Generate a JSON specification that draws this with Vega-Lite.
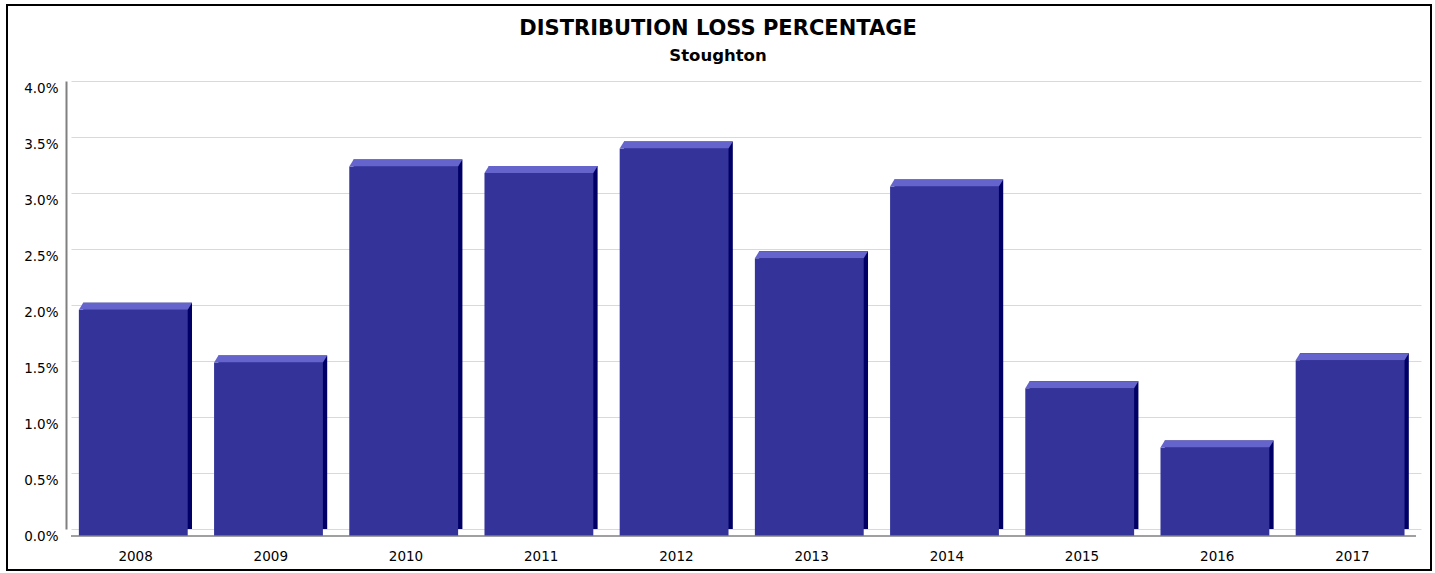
{
  "$schema": "https://vega.github.io/schema/vega-lite/v6.json",
  "width": 1350,
  "height": 448,
  "autosize": {"type": "none"},
  "padding": {"left": 71, "top": 81, "right": 14, "bottom": 44},
  "background": "white",
  "config": {"view": {"stroke": null}, "font": "DejaVu Sans"},
  "title": {
    "text": "DISTRIBUTION LOSS PERCENTAGE",
    "subtitle": "Stoughton",
    "anchor": "middle",
    "frame": "group",
    "dx": -28,
    "offset": -60,
    "font": "DejaVu Sans",
    "fontSize": 21,
    "fontWeight": "bold",
    "color": "black",
    "subtitleFont": "DejaVu Sans",
    "subtitleFontSize": 16.5,
    "subtitleFontWeight": "bold",
    "subtitleColor": "black",
    "subtitlePadding": 9
  },
  "layer": [
    {
      "data": {"values": [
        {"year": "2008", "loss": 0.0202},
        {"year": "2009", "loss": 0.0155},
        {"year": "2010", "loss": 0.0330},
        {"year": "2011", "loss": 0.0324},
        {"year": "2012", "loss": 0.0346},
        {"year": "2013", "loss": 0.0248},
        {"year": "2014", "loss": 0.0312},
        {"year": "2015", "loss": 0.0132},
        {"year": "2016", "loss": 0.0079},
        {"year": "2017", "loss": 0.0157}
      ]},
      "encoding": {
        "x": {
          "field": "year",
          "type": "ordinal",
          "scale": {"paddingInner": 0.195, "paddingOuter": 0.09},
          "axis": {
            "title": null,
            "labelAngle": 0,
            "domain": false,
            "ticks": false,
            "labelPadding": 20,
            "labelOffset": -2,
            "labelFont": "DejaVu Sans",
            "labelFontSize": 13.5,
            "labelColor": "black"
          }
        },
        "y": {
          "field": "loss",
          "type": "quantitative",
          "scale": {"domain": [0, 0.04], "nice": false},
          "axis": {
            "title": null,
            "values": [0, 0.005, 0.01, 0.015, 0.02, 0.025, 0.03, 0.035, 0.04],
            "format": ".1%",
            "grid": true,
            "gridColor": "#d9d9d9",
            "gridWidth": 1,
            "domain": true,
            "domainColor": "#808080",
            "domainWidth": 2,
            "ticks": false,
            "offset": 5,
            "labelPadding": 8,
            "labelOffset": 7,
            "labelFont": "DejaVu Sans",
            "labelFontSize": 13.5,
            "labelColor": "black"
          }
        }
      },
      "layer": [
        {"mark": {"type": "bar", "color": "#000066"}},
        {"mark": {"type": "bar", "color": "#333399", "xOffset": -4.3, "x2Offset": -4.3, "yOffset": 7, "y2Offset": 7}},
        {"mark": {"type": "point", "shape": "M -1 0 L 1 0 L 0.921 0.1286 L -1.079 0.1286 Z", "size": 11846, "filled": true, "color": "#6464cc", "opacity": 1, "strokeWidth": 0}}
      ]
    },
    {
      "data": {"values": [{"floor": 0}]},
      "mark": {"type": "rule", "color": "#808080", "strokeWidth": 1.5, "yOffset": 7, "y2Offset": 7, "xOffset": -5, "x2Offset": -5},
      "encoding": {"y": {"field": "floor", "type": "quantitative"}}
    },
    {
      "data": {"values": [{"frame": "border"}]},
      "mark": {"type": "rect", "filled": false, "stroke": "black", "strokeWidth": 2, "xOffset": -64, "x2Offset": 10, "yOffset": -76, "y2Offset": 41},
      "encoding": {
        "x": {"value": 0},
        "x2": {"value": "width"},
        "y": {"value": 0},
        "y2": {"value": "height"}
      }
    }
  ]
}
